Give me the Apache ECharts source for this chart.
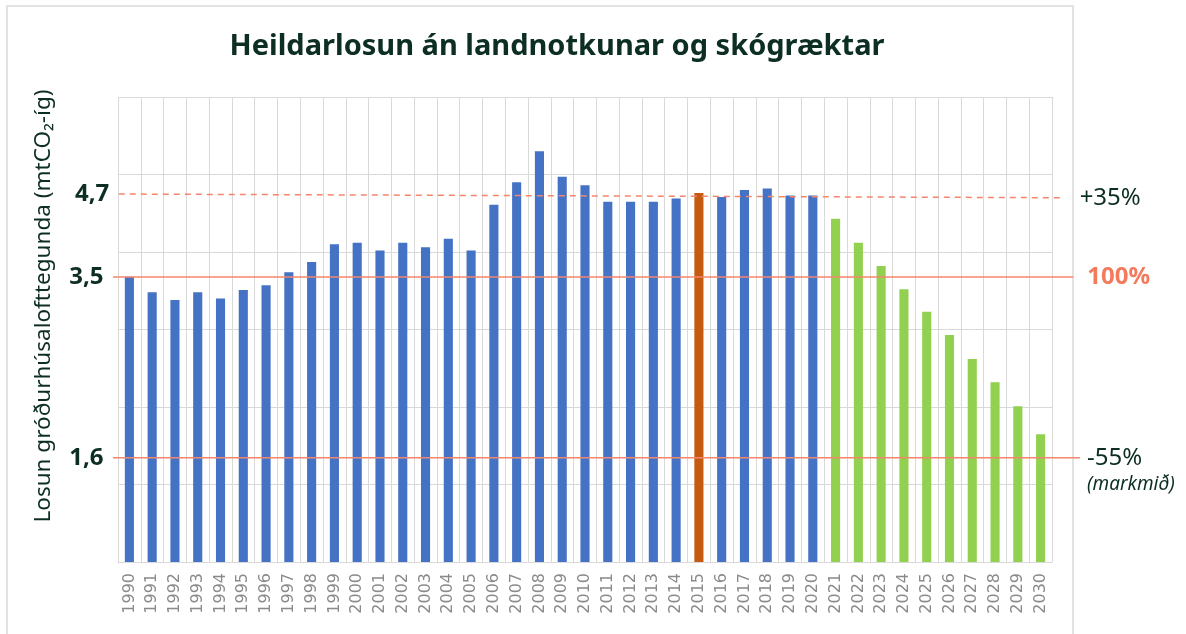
<!DOCTYPE html>
<html>
<head>
<meta charset="utf-8">
<script src="https://cdn.jsdelivr.net/npm/echarts@6/dist/echarts.min.js"></script>
<style>
  html, body { margin: 0; padding: 0; background: #fff; }
  #chart { width: 1186px; height: 634px; }
</style>
</head>
<body>
<div id="chart"></div>
<script>
// ár
const years = [];
for (let y = 1990; y <= 2030; y++) years.push(String(y));

// losun (mt CO2-íg), lesið af myndinni
const emissions = [
  3.68, 3.48, 3.38, 3.48, 3.40, 3.51, 3.57, 3.74, 3.87, 4.10,
  4.12, 4.02, 4.12, 4.06, 4.17, 4.02, 4.61, 4.90, 5.30, 4.97,
  4.86, 4.65, 4.65, 4.65, 4.69, 4.76, 4.71, 4.80, 4.82, 4.73,
  4.73, 4.43, 4.12, 3.82, 3.52, 3.23, 2.93, 2.62, 2.32, 2.01,
  1.65
];

// viðmiðunarlínur: [vinstri endi, hægri endi] sem [x, gildi]
const lineBase = [[0, 3.677], [0.993, 3.677]];
const linePlus35 = [[0.006, 4.748], [0.981, 4.70]];
const lineMinus55 = [[0, 1.346], [1, 1.346]];

const dark = '#0d2e22';
const coral = '#f4866c';

let mychart = echarts.init(document.getElementById('chart'));

function barColor(year) {
  if (year === '2015') return '#c55a11';
  if (Number(year) >= 2021) return '#92d050';
  return '#4472c4';
}

function refLine(data, opts) {
  return {
    type: 'line',
    xAxisIndex: 1,
    yAxisIndex: 1,
    data: data.map((d, i) => i === 0 ? {
      value: d,
      label: {
        show: true,
        position: 'left',
        distance: 9,
        formatter: opts.left,
        fontFamily: 'Noto Sans',
        fontWeight: 'bold',
        fontSize: 24,
        color: dark
      }
    } : d),
    symbol: 'circle',
    symbolSize: 1,
    showSymbol: true,
    itemStyle: { color: 'rgba(0,0,0,0)' },
    silent: true,
    z: 5,
    lineStyle: { color: coral, width: 1.5, type: opts.dashed ? [6, 5] : 'solid' },
    endLabel: Object.assign({
      show: true,
      fontFamily: 'Noto Sans',
      fontSize: 24,
      color: dark
    }, opts.end)
  };
}

mychart.setOption({
  animation: false,
  backgroundColor: '#fff',
  title: {
    text: 'Heildarlosun án landnotkunar og skógræktar',
    left: 552,
    top: 27,
    textAlign: 'center',
    textStyle: {
      fontFamily: 'Noto Sans',
      fontWeight: 'bold',
      fontSize: 29,
      color: dark
    }
  },
  graphic: [
    {
      type: 'rect',
      shape: { x: 7, y: 6, width: 1066, height: 640 },
      style: { fill: 'none', stroke: '#d9d9d9', lineWidth: 1.5 },
      silent: true
    },
    {
      type: 'text',
      x: 44,
      y: 306,
      rotation: Math.PI / 2,
      style: {
        text: 'Losun gróðurhúsalofttegunda (mtCO₂-íg)',
        fontFamily: 'Noto Sans',
        fontSize: 22.5,
        fill: dark,
        align: 'center',
        verticalAlign: 'middle'
      }
    }
  ],
  grid: [
    { left: 118, right: 134, top: 97, bottom: 72 },
    { left: 113, right: 106, top: 97, bottom: 72 }
  ],
  xAxis: [
    {
      type: 'category',
      gridIndex: 0,
      data: years,
      axisTick: { show: false },
      axisLine: { lineStyle: { color: '#d9d9d9' } },
      splitLine: { show: true, interval: 0, lineStyle: { color: '#d9d9d9' } },
      axisLabel: {
        interval: 0,
        rotate: 90,
        margin: 11,
        fontFamily: 'DejaVu Sans',
        fontSize: 16,
        color: '#8a8a8a'
      }
    },
    { type: 'value', gridIndex: 1, min: 0, max: 1, show: false }
  ],
  yAxis: [
    {
      type: 'value',
      gridIndex: 0,
      min: 0,
      max: 6,
      interval: 1,
      axisLabel: { show: false },
      axisLine: { show: false },
      axisTick: { show: false },
      splitLine: { lineStyle: { color: '#d9d9d9' } }
    },
    { type: 'value', gridIndex: 1, min: 0, max: 6, show: false }
  ],
  series: [
    {
      type: 'bar',
      barWidth: '40%',
      data: emissions.map((v, i) => ({
        value: v,
        itemStyle: { color: barColor(years[i]) }
      }))
    },
    refLine(linePlus35, {
      left: '4,7',
      dashed: true,
      end: { distance: 18, formatter: '+35%' }
    }),
    refLine(lineBase, {
      left: '3,5',
      end: { distance: 14, formatter: '100%', fontWeight: 'bold', color: '#f47a5c' }
    }),
    refLine(lineMinus55, {
      left: '1,6',
      end: {
        distance: 7,
        padding: [26, 0, 0, 0],
        formatter: '{a|-55%}\n{b|(markmið)}',
        rich: {
          a: { fontFamily: 'Noto Sans', fontSize: 24, lineHeight: 28, color: dark },
          b: { fontFamily: 'Noto Sans', fontSize: 19, fontStyle: 'italic', lineHeight: 26, color: dark }
        }
      }
    })
  ]
});
window.addEventListener('resize', () => {
  mychart.resize();
});
</script>
</body>
</html>
